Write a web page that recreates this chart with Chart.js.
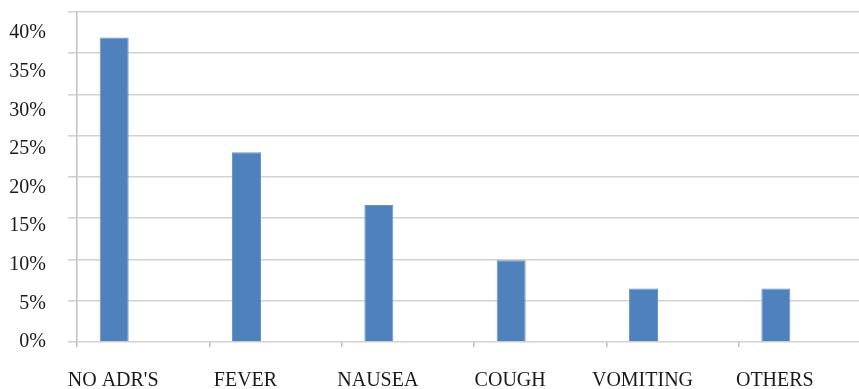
<!DOCTYPE html>
<html>
<head>
<meta charset="utf-8">
<script src="https://cdn.jsdelivr.net/npm/chart.js@4/dist/chart.umd.min.js"></script>
<style>
  html, body { margin: 0; padding: 0; background: #fff; overflow: hidden; }
  #wrap { position: relative; width: 880px; height: 389px; }
</style>
</head>
<body>
<div id="wrap"><canvas id="c" width="880" height="389"></canvas></div>
<script>
// Adverse drug reactions, share of patients (%)
const categories = ["NO ADR'S", "FEVER", "NAUSEA", "COUGH", "VOMITING", "OTHERS"];
const adrShare = [36.9, 23.0, 16.6, 9.9, 6.5, 6.5];
const yTicks = [0, 5, 10, 15, 20, 25, 30, 35, 40];

const serif = "'Liberation Serif', 'Times New Roman', serif";
const gridGray = '#d2d2d2';

new Chart(document.getElementById('c'), {
  type: 'bar',
  data: {
    labels: categories,
    datasets: [
      {
        label: 'ADR',
        data: adrShare,
        backgroundColor: '#4f81bd',
        borderColor: '#6b93c6',
        borderWidth: 1,
        categoryPercentage: 0.657,
        barPercentage: 1,
        yAxisID: 'y'
      },
      // two empty series keep the cluster slots of the original layout
      { label: 's2', data: [], categoryPercentage: 0.657, barPercentage: 1, yAxisID: 'y' },
      { label: 's3', data: [], categoryPercentage: 0.657, barPercentage: 1, yAxisID: 'y' }
    ]
  },
  options: {
    responsive: false,
    animation: false,
    events: [],
    layout: { padding: { top: 12, right: 9, left: 0, bottom: 0 } },
    plugins: { legend: { display: false }, tooltip: { enabled: false } },
    scales: {
      x: {
        type: 'category',
        offset: true,
        grid: {
          offset: true,
          drawOnChartArea: false,
          drawTicks: true,
          tickLength: 5,
          color: '#bdbdbd',
          lineWidth: 1.5
        },
        border: { display: false },
        ticks: {
          font: { family: serif, size: 20 },
          color: '#1a1a1a',
          padding: 22,
          labelOffset: -30,
          maxRotation: 0,
          autoSkip: false
        },
        afterFit: (s) => { s.height = 47; }
      },
      y: {
        position: 'left',
        weight: 1,
        min: 0,
        max: 40,
        afterBuildTicks: (s) => { s.ticks = yTicks.map(v => ({ value: v })); },
        grid: {
          color: gridGray,
          lineWidth: 1.6,
          drawTicks: true,
          tickLength: 9
        },
        border: { display: true, color: '#c4c4c4', width: 1.6 },
        ticks: { display: false },
        afterFit: (s) => { s.width = 31; }
      },
      yLabels: {
        position: 'left',
        weight: 2,
        min: 0,
        max: 42.72,
        afterBuildTicks: (s) => { s.ticks = yTicks.map(v => ({ value: v })); },
        grid: { display: false, drawTicks: false },
        border: { display: false },
        ticks: {
          font: { family: serif, size: 20 },
          color: '#1a1a1a',
          padding: 0,
          callback: (v) => v + '%'
        },
        afterFit: (s) => { s.width = 46; }
      }
    }
  }
});
</script>
</body>
</html>
